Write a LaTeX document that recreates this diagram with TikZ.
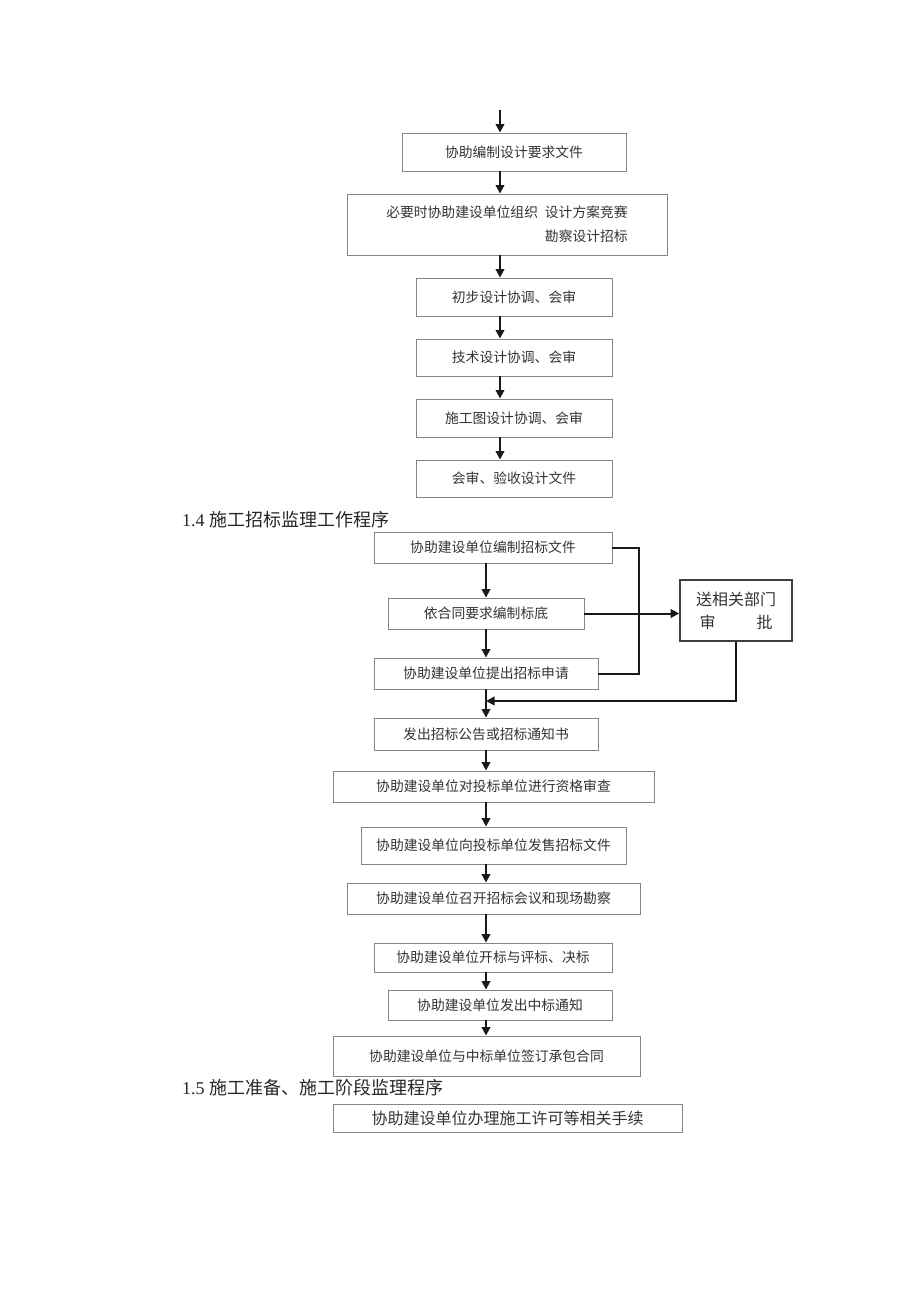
\documentclass[tikz,border=0pt]{standalone}
\usepackage{fontspec}
\setmainfont{Liberation Serif}
\newfontfamily\cjk{Noto Sans CJK SC}
\usetikzlibrary{arrows.meta}
\definecolor{boxgray}{HTML}{858585}
\definecolor{textgray}{HTML}{333333}
\begin{document}
\begin{tikzpicture}[x=1pt,y=-1pt,
  box/.style={draw=boxgray, line width=0.9pt, inner sep=0pt, text=textgray,
    font=\cjk\fontsize{13.8}{24}\selectfont},
  apbox/.style={draw=black!75, line width=1.6pt, inner sep=0pt, text=textgray,
    align=center, font=\cjk\fontsize{16}{23}\selectfont},
  head/.style={anchor=west, inner sep=0pt, text=black!85, font=\fontsize{18}{20}\selectfont},
  arr/.style={line width=2pt, draw=black!90, -{Triangle[width=8.5pt,length=8.5pt]}},
  ln/.style={line width=2pt, draw=black!90}]
\useasboundingbox (0,0) rectangle (920,1301);
\coordinate (ax) at (500,0);
\coordinate (bx) at (486,0);
\coordinate (start) at (500,110);
% --- top section ---
\node[box, minimum width=224pt, minimum height=38pt] (b1) at (514,152) {协助编制设计要求文件};
\node[box, minimum width=320pt, minimum height=61pt, align=right] (b2) at (507,224.5) {必要时协助建设单位组织\hspace{0.5em}设计方案竞赛\\勘察设计招标};
\node[box, minimum width=196pt, minimum height=38pt] (b3) at (514,297) {初步设计协调、会审};
\node[box, minimum width=196pt, minimum height=37pt] (b4) at (514,357.5) {技术设计协调、会审};
\node[box, minimum width=196pt, minimum height=38pt] (b5) at (514,418) {施工图设计协调、会审};
\node[box, minimum width=196pt, minimum height=37pt] (b6) at (514,478.5) {会审、验收设计文件};
\draw[arr] (start) -- (b1.north -| ax);
\draw[arr] (b1.south -| ax) -- (b2.north -| ax);
\draw[arr] (b2.south -| ax) -- (b3.north -| ax);
\draw[arr] (b3.south -| ax) -- (b4.north -| ax);
\draw[arr] (b4.south -| ax) -- (b5.north -| ax);
\draw[arr] (b5.south -| ax) -- (b6.north -| ax);
% --- 1.4 ---
\node[head] (h14) at (182,520) {1.4 {\cjk 施工招标监理工作程序}};
\node[box, minimum width=238pt, minimum height=31pt] (b7) at (493,547.5) {协助建设单位编制招标文件};
\node[box, minimum width=196pt, minimum height=31pt] (b8) at (486,613.5) {依合同要求编制标底};
\node[apbox, minimum width=112pt, minimum height=61pt] (ap) at (736,610.5) {送相关部门\\审\hspace{41pt}批};
\node[box, minimum width=224pt, minimum height=31pt] (b9) at (486,673.5) {协助建设单位提出招标申请};
\node[box, minimum width=224pt, minimum height=32pt] (b10) at (486,734) {发出招标公告或招标通知书};
\node[box, minimum width=321pt, minimum height=31pt] (b11) at (493.5,786.5) {协助建设单位对投标单位进行资格审查};
\node[box, minimum width=265pt, minimum height=37pt] (b12) at (493.5,845.5) {协助建设单位向投标单位发售招标文件};
\node[box, minimum width=293pt, minimum height=31pt] (b13) at (493.5,898.5) {协助建设单位召开招标会议和现场勘察};
\node[box, minimum width=238pt, minimum height=29pt] (b14) at (493,957.5) {协助建设单位开标与评标、决标};
\node[box, minimum width=224pt, minimum height=30pt] (b15) at (500,1005) {协助建设单位发出中标通知};
\node[box, minimum width=307pt, minimum height=40pt] (b16) at (486.5,1056) {协助建设单位与中标单位签订承包合同};
\coordinate (rx) at (639,0);
\coordinate (j) at (486,701);
\draw[ln] (b7.east) -- (b7.east -| rx) -- (b9.east -| rx) -- (b9.east);
\draw[arr] (b8.east) -- (b8.east -| ap.west);
\draw[arr] (ap.south) |- (j);
\draw[arr] (b7.south -| bx) -- (b8.north -| bx);
\draw[arr] (b8.south -| bx) -- (b9.north -| bx);
\draw[arr] (b9.south -| bx) -- (b10.north -| bx);
\draw[arr] (b10.south -| bx) -- (b11.north -| bx);
\draw[arr] (b11.south -| bx) -- (b12.north -| bx);
\draw[arr] (b12.south -| bx) -- (b13.north -| bx);
\draw[arr] (b13.south -| bx) -- (b14.north -| bx);
\draw[arr] (b14.south -| bx) -- (b15.north -| bx);
\draw[arr] (b15.south -| bx) -- (b16.north -| bx);
% --- 1.5 ---
\node[head] (h15) at (182,1088) {1.5 {\cjk 施工准备、施工阶段监理程序}};
\node[box, minimum width=349pt, minimum height=28pt, font=\cjk\fontsize{16}{18}\selectfont] (b17) at (507.5,1118) {协助建设单位办理施工许可等相关手续};
\end{tikzpicture}
\end{document}
